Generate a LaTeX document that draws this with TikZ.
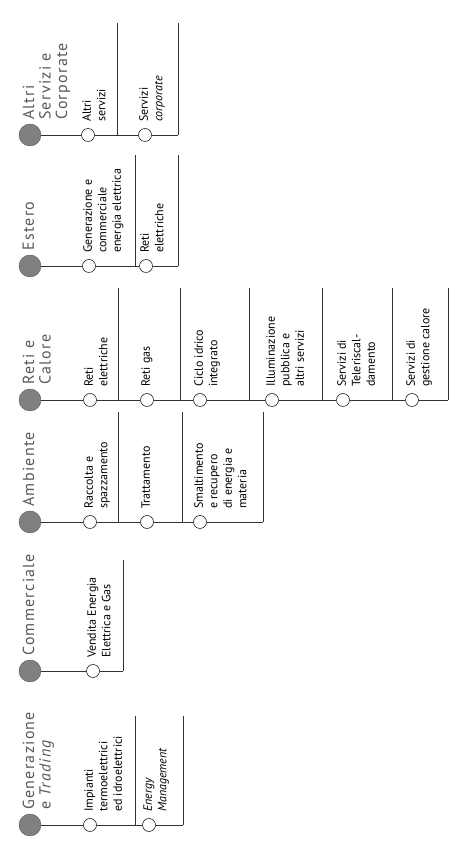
\documentclass[tikz,border=0pt]{standalone}
\usepackage{fontspec}
\setmainfont{PT Sans}
\newfontfamily\unitfont[LetterSpace=8]{PT Sans}
\usetikzlibrary{positioning}
\tikzset{
  unitdot/.style={circle,fill=black!50,draw=black!65,minimum size=22pt,inner sep=0pt},
  ring/.style={circle,draw=black!85,fill=white,line width=0.6pt,
               minimum size=13pt,inner sep=0pt},
  unitname/.style={anchor=north west,inner sep=0pt,align=left,text=black!65,
                   font=\unitfont\fontsize{16}{16.5}\selectfont},
  biz/.style={anchor=north west,inner sep=0pt,align=left,
              font=\fontsize{12}{14.5}\selectfont},
  rule/.style={line width=0.6pt,draw=black!80},
}

\begin{document}
\begin{tikzpicture}[x=1pt,y=1pt,rotate=90,transform shape]
  \fill[white] (0,-464) rectangle (848,0);
  \useasboundingbox (0,-464) rectangle (848,0);

  % Generazione e Trading
  \node[unitdot] (gen) at (23,-30) {};
  \node[unitname] (genT) at (38,-22.5) {Generazione\\e \textit{Trading}};
  \node[ring] (genA) at (23,-90) {};
  \node[ring] (genB) at (23,-149) {};
  \node[biz] (genAt) at (36,-84.2) {Impianti\\termoelettrici\\ed idroelettrici};
  \node[biz] (genBt) at (36,-143.2) {\textit{Energy}\\\textit{Management}};
  \foreach \n/\y in {a/-135,b/-183}{
    \coordinate (genS\n) at (23,\y);
    \coordinate (genE\n) at (132,\y);
    \draw[rule] (genS\n) -- (genE\n);
  }
  \draw[rule] (gen) -- (genA) -- (genB) -- (genSb);

  % Commerciale
  \node[unitdot] (com) at (177,-30) {};
  \node[unitname] (comT) at (192,-22.5) {Commerciale};
  \node[ring] (comA) at (177,-93) {};
  \node[biz] (comAt) at (190,-87.2) {Vendita Energia\\Elettrica e Gas};
  \coordinate (comSa) at (177,-123);
  \coordinate (comEa) at (288,-123);
  \draw[rule] (comSa) -- (comEa);
  \draw[rule] (com) -- (comA) -- (comSa);

  % Ambiente
  \node[unitdot] (amb) at (326,-30) {};
  \node[unitname] (ambT) at (341,-22.5) {Ambiente};
  \node[ring] (ambA) at (326,-90) {};
  \node[ring] (ambB) at (326,-147) {};
  \node[ring] (ambC) at (326,-200) {};
  \node[biz] (ambAt) at (339,-84.2) {Raccolta e\\spazzamento};
  \node[biz] (ambBt) at (339,-141.2) {Trattamento};
  \node[biz] (ambCt) at (339,-194.2) {Smaltimento\\e recupero\\di energia e\\materia};
  \foreach \n/\y in {a/-118,b/-182,c/-263}{
    \coordinate (ambS\n) at (326,\y);
    \coordinate (ambE\n) at (436,\y);
    \draw[rule] (ambS\n) -- (ambE\n);
  }
  \draw[rule] (amb) -- (ambA) -- (ambB) -- (ambC) -- (ambSc);

  % Reti e Calore
  \node[unitdot] (ret) at (448,-30) {};
  \node[unitname] (retT) at (463,-22.5) {Reti e\\Calore};
  \node[ring] (retA) at (448,-90) {};
  \node[ring] (retB) at (448,-147) {};
  \node[ring] (retC) at (448,-200) {};
  \node[ring] (retD) at (448,-272) {};
  \node[ring] (retE) at (448,-343) {};
  \node[ring] (retF) at (448,-412) {};
  \node[biz] (retAt) at (461,-84.2) {Reti\\elettriche};
  \node[biz] (retBt) at (461,-141.2) {Reti gas};
  \node[biz] (retCt) at (461,-194.2) {Ciclo idrico\\integrato};
  \node[biz] (retDt) at (461,-266.2) {Illuminazione\\pubblica e\\altri servizi};
  \node[biz] (retEt) at (461,-337.2) {Servizi di\\Teleriscal-\\damento};
  \node[biz] (retFt) at (461,-406.2) {Servizi di\\gestione calore};
  \foreach \n/\y in {a/-118,b/-180,c/-249,d/-322,e/-392,f/-448}{
    \coordinate (retS\n) at (448,\y);
    \coordinate (retE\n) at (560,\y);
    \draw[rule] (retS\n) -- (retE\n);
  }
  \draw[rule] (ret) -- (retA) -- (retB) -- (retC) -- (retD) -- (retE) -- (retF) -- (retSf);

  % Estero
  \node[unitdot] (est) at (582,-30) {};
  \node[unitname] (estT) at (597,-22.5) {Estero};
  \node[ring] (estA) at (582,-89) {};
  \node[ring] (estB) at (582,-146) {};
  \node[biz] (estAt) at (595,-83.2) {Generazione e\\commerciale\\energia elettrica};
  \node[biz] (estBt) at (595,-140.2) {Reti\\elettriche};
  \foreach \n/\y in {a/-135,b/-178}{
    \coordinate (estS\n) at (582,\y);
    \coordinate (estE\n) at (693,\y);
    \draw[rule] (estS\n) -- (estE\n);
  }
  \draw[rule] (est) -- (estA) -- (estB) -- (estSb);

  % Altri Servizi e Corporate
  \node[unitdot] (alt) at (713,-30) {};
  \node[unitname] (altT) at (728,-22.5) {Altri\\Servizi e\\Corporate};
  \node[ring] (altA) at (713,-88) {};
  \node[ring] (altB) at (713,-145) {};
  \node[biz] (altAt) at (726,-82.2) {Altri\\servizi};
  \node[biz] (altBt) at (726,-139.2) {Servizi\\\textit{corporate}};
  \foreach \n/\y in {a/-117,b/-178}{
    \coordinate (altS\n) at (713,\y);
    \coordinate (altE\n) at (825,\y);
    \draw[rule] (altS\n) -- (altE\n);
  }
  \draw[rule] (alt) -- (altA) -- (altB) -- (altSb);
\end{tikzpicture}
\end{document}
